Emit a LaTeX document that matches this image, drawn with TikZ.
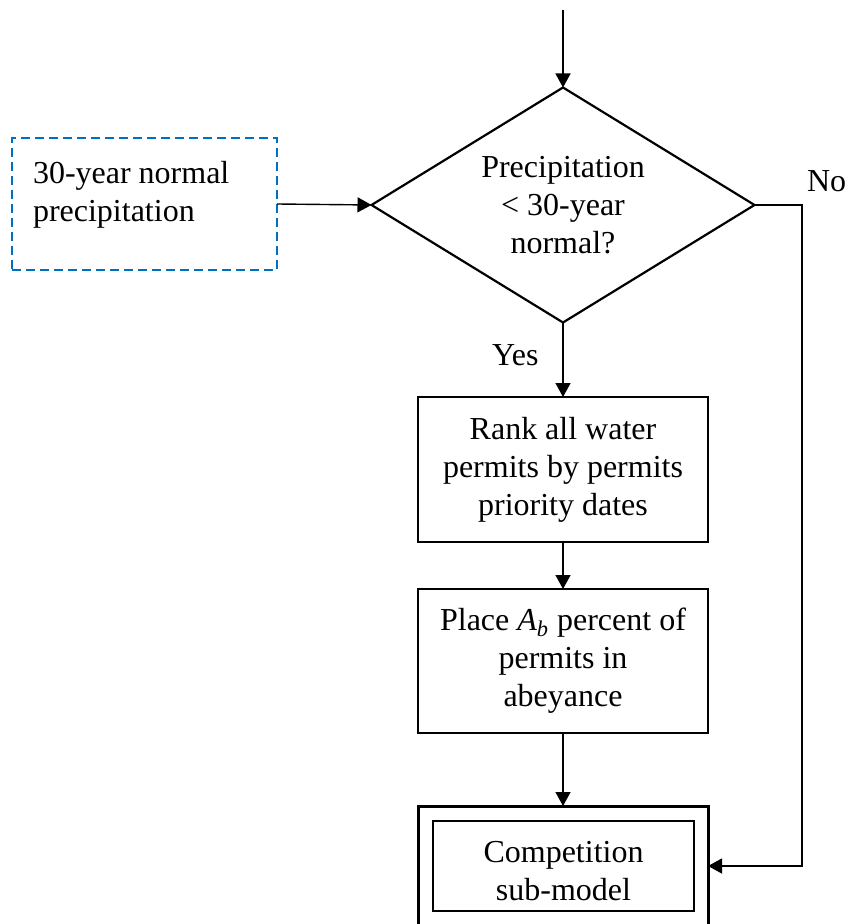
\documentclass[tikz,border=0pt]{standalone}
\usepackage{fontspec}
\setmainfont{Liberation Serif}
\usetikzlibrary{arrows.meta,shapes.geometric}
\definecolor{wordblue}{RGB}{0,112,192}
\begin{document}
\begin{tikzpicture}[x=0.5pt,y=-0.5pt,
  font=\fontsize{16pt}{19pt}\selectfont,
  every node/.style={inner sep=0pt, outer sep=0pt},
  conn/.style={line width=0.7pt, -{Triangle[length=7pt,width=7.5pt]}},
  procbox/.style={draw, line width=1.1pt, minimum width=145pt, align=center},
  decision/.style={draw, diamond, line width=1.1pt, shape aspect=1.63,
    minimum width=191.5pt, minimum height=117.5pt, align=center},
  inputbox/.style={draw=wordblue, line width=1.3pt, dash pattern=on 4.5pt off 2.5pt,
    minimum width=132.5pt, minimum height=66pt},
  label/.style={anchor=base west}]
\useasboundingbox (0,0) rectangle (847,924);
\clip (0,0) rectangle (847,924);

% entry point
\coordinate (entry) at (563,10);

% decision
\node[decision] (dec) at (563,205) {Precipitation\\< 30-year\\normal?};

% external input (dashed)
\node[inputbox] (norm) at (144.5,204) {};
\node[label, align=left] (normtxt) at (33,222) {30-year normal\\precipitation};

% process steps
\node[procbox, minimum height=72.5pt] (rank) at (563,469.5)
  {Rank all water\\permits by permits\\priority dates};
\node[procbox, minimum height=72pt] (place) at (563,661)
  {Place \textit{A\textsubscript{b}} percent of\\permits in\\abeyance};

% sub-model (double frame)
\node[draw, line width=1.5pt, minimum width=145pt, minimum height=67pt] (compout) at (563,873) {};
\node[draw, line width=1.2pt, minimum width=130.5pt, minimum height=45pt] (compin) at (563.5,866) {};
\node[anchor=base, align=center] (comptxt) at (563.5,900) {Competition\\sub-model};

% labels
\node[label] (yes) at (492,365) {Yes};
\node[label] (no) at (807,192) {No};

% connectors
\coordinate (noturn) at (802,205);
\draw[conn] (entry) -- (dec.north);
\draw[conn] (norm.east) -- (dec.west);
\draw[conn] (dec.south) -- (rank.north);
\draw[conn] (rank.south) -- (place.north);
\draw[conn] (place.south) -- (compout.north);
\draw[conn] (dec.east) -- (noturn) |- (compout.east |- compin.east);
\end{tikzpicture}
\end{document}
